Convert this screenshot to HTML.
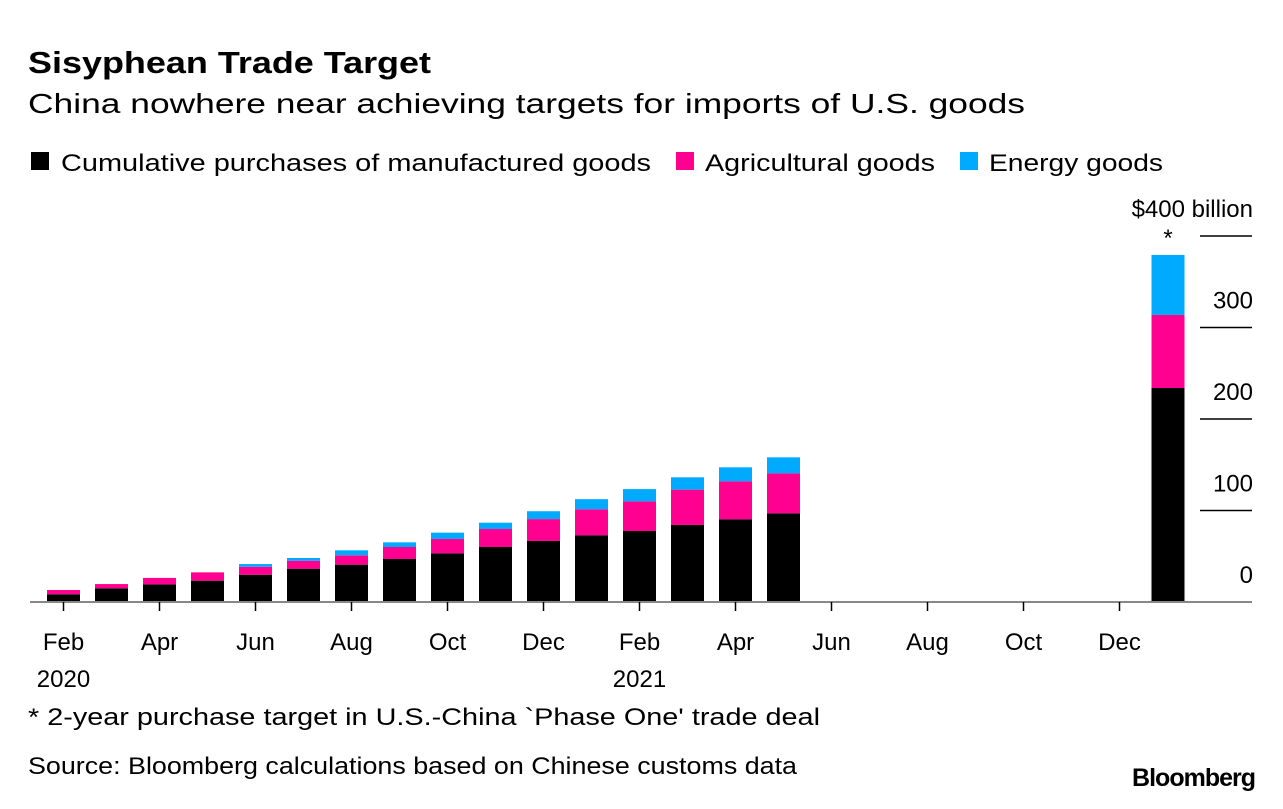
<!DOCTYPE html>
<html><head><meta charset="utf-8"><style>
body{margin:0;background:#fff;width:1283px;height:804px;overflow:hidden;font-family:"Liberation Sans",Arial,sans-serif;}
</style></head><body>
<svg width="1283" height="804" xmlns="http://www.w3.org/2000/svg" font-family="Liberation Sans, Arial, sans-serif">
<text x="28" y="73" font-size="31" font-weight="bold" textLength="403" lengthAdjust="spacingAndGlyphs">Sisyphean Trade Target</text>
<text x="28" y="113" font-size="28" textLength="997" lengthAdjust="spacingAndGlyphs">China nowhere near achieving targets for imports of U.S. goods</text>
<g font-size="24">
<g><rect x="31" y="152" width="18" height="18" fill="#000"/><text x="61" y="171" textLength="590" lengthAdjust="spacingAndGlyphs">Cumulative purchases of manufactured goods</text></g>
<g><rect x="676" y="152" width="18" height="18" fill="#ff0090"/><text x="705" y="171" textLength="230" lengthAdjust="spacingAndGlyphs">Agricultural goods</text></g>
<g><rect x="960" y="152" width="18" height="18" fill="#00aaff"/><text x="989" y="171" textLength="174" lengthAdjust="spacingAndGlyphs">Energy goods</text></g>
</g>
<g id="yaxis" font-size="24" text-anchor="end"></g>
<g id="bars"></g>
<line x1="30" y1="602" x2="1252" y2="602" stroke="#888" stroke-width="2"/>
<g id="xaxis" font-size="24" text-anchor="middle"></g>
<text x="1168" y="246" font-size="24" text-anchor="middle">*</text>
<text x="28" y="725" font-size="24" textLength="792" lengthAdjust="spacingAndGlyphs">* 2-year purchase target in U.S.-China `Phase One' trade deal</text>
<text x="28" y="774" font-size="24" textLength="769" lengthAdjust="spacingAndGlyphs">Source: Bloomberg calculations based on Chinese customs data</text>
<text x="1255" y="786" font-size="25" font-weight="bold" text-anchor="end" letter-spacing="-1">Bloomberg</text>
</svg>
<script>
const manufactured=[8.4,15,19.3,23.3,29.8,36.4,40.8,47,53.2,60.1,66.7,72.9,77.6,84.2,90.4,96.9];
const agricultural=[4.7,4.6,7,9.1,8.7,8.7,10.2,13.1,15.7,19.7,23.9,28.4,32.4,38.6,41.5,43.7];
const energy=[0,0,0,0,3,3,5.5,5.1,6.9,6.9,8.6,11.1,13.4,13.5,15.3,17.5];
const target=[233.9,79.8,65.6];
const yTicks=[0,100,200,300,400];
const yTickLabels=["0","100","200","300","$400 billion"];
const monthLabels=["Feb","Apr","Jun","Aug","Oct","Dec","Feb","Apr","Jun","Aug","Oct","Dec"];
const yearLabels=[[0,"2020"],[12,"2021"]];
const NS="http://www.w3.org/2000/svg";
const y=v=>602-v*0.915;
const xm=i=>63.5+i*48;
const colors=["#000","#ff0090","#00aaff"];
function mk(t,a,p){const e=document.createElementNS(NS,t);for(const k in a)e.setAttribute(k,a[k]);p.appendChild(e);return e;}
const ya=document.getElementById('yaxis');
yTicks.forEach((v,i)=>{
 if(v>0){const l=mk('line',{x1:1200,x2:1252,y1:y(v),y2:y(v),stroke:'#000','stroke-width':1.5},ya);
 
 }
 const t=mk('text',{x:1253,y:y(v)-19},ya);t.textContent=yTickLabels[i];
 
 
});
const bg=document.getElementById('bars');
function stack(cx,vals,name){let base=0;vals.forEach((v,k)=>{if(v<=0)return;
 const r=mk('rect',{x:cx-16.5,width:33,y:y(base+v),height:v*0.915,fill:colors[k]},bg);
 
 
 base+=v;});}
manufactured.forEach((m,i)=>stack(xm(i),[m,agricultural[i],energy[i]],'bar-'+i));
stack(1168,target,'target-bar');
const xa=document.getElementById('xaxis');
monthLabels.forEach((m,j)=>{const cx=xm(j*2);
 const l=mk('line',{x1:cx,x2:cx,y1:602,y2:611,stroke:'#000','stroke-width':1.5},xa);
 
 
 const t=mk('text',{x:cx,y:650},xa);t.textContent=m;
 
 });
yearLabels.forEach(([i,s])=>{const t=mk('text',{x:xm(i),y:687},xa);t.textContent=s;
 
 });
</script>
</body></html>
